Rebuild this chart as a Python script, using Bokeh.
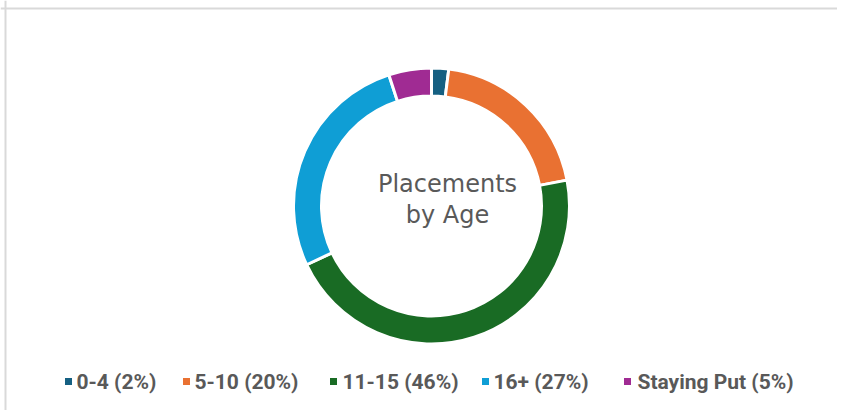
import math
from bokeh.plotting import figure
from bokeh.models import Range1d, Span, ColumnDataSource
from bokeh.core.properties import value
from bokeh.embed import file_html
from bokeh.resources import INLINE

# ---- data ----
categories = ["0-4", "5-10", "11-15", "16+", "Staying Put"]
percents = [2, 20, 46, 27, 5]
colors = ["#156082", "#E97132", "#196B24", "#0F9ED5", "#A02B93"]
center_title = ["Placements", "by Age"]

W, H = 837, 410
p = figure(width=W, height=H, output_backend="svg", toolbar_location=None,
           x_range=Range1d(0, W), y_range=Range1d(0, H), min_border=0,
           outline_line_color=None)
p.axis.visible = False
p.grid.visible = False
p.background_fill_color = "white"
p.border_fill_color = "white"

# chart-area border (top and left edges visible in reference)
p.add_layout(Span(location=H - 8, dimension="width", line_color="#D9D9D9", line_width=2))
p.add_layout(Span(location=5, dimension="height", line_color="#D9D9D9", line_width=2))

# ---- donut ----
cx, cy = 431, 204.5
r_out, r_in = 138, 110
total = float(sum(percents))
starts, ends = [], []
cum = 0.0
for v in percents:
    starts.append(math.pi / 2 - cum / total * 2 * math.pi)
    cum += v
    ends.append(math.pi / 2 - cum / total * 2 * math.pi)
src = ColumnDataSource(dict(x=[cx] * len(percents), y=[cy] * len(percents),
                            start=starts, end=ends, color=colors))
p.annular_wedge(x="x", y="y", inner_radius=r_in, outer_radius=r_out,
                start_angle="start", end_angle="end", direction="clock",
                fill_color="color", line_color="white", line_width=3, source=src)

# ---- centre title ----
p.text(x=[447, 447], y=[227, 196], text=center_title, text_align="center",
       text_baseline="middle", text_font=value("DejaVu Sans"),
       text_font_size="24px", text_color="#595959")

# ---- legend ----
leg_labels = [f"{c} ({v}%)" for c, v in zip(categories, percents)]
sq_x = [68, 186, 333, 485, 627]
txt_x = [76, 194, 342, 493, 637]
leg_y = 29
p.scatter(x=sq_x, y=[leg_y] * 5, marker="square", size=7, fill_color=colors,
          line_color=None)
p.text(x=txt_x, y=[leg_y] * 5, text=leg_labels, text_align="left",
       text_baseline="middle", text_font=value("Roboto"),
       text_font_style="bold", text_font_size="21px", text_color="#595959")

open("out.html", "w").write(file_html(p, INLINE))
